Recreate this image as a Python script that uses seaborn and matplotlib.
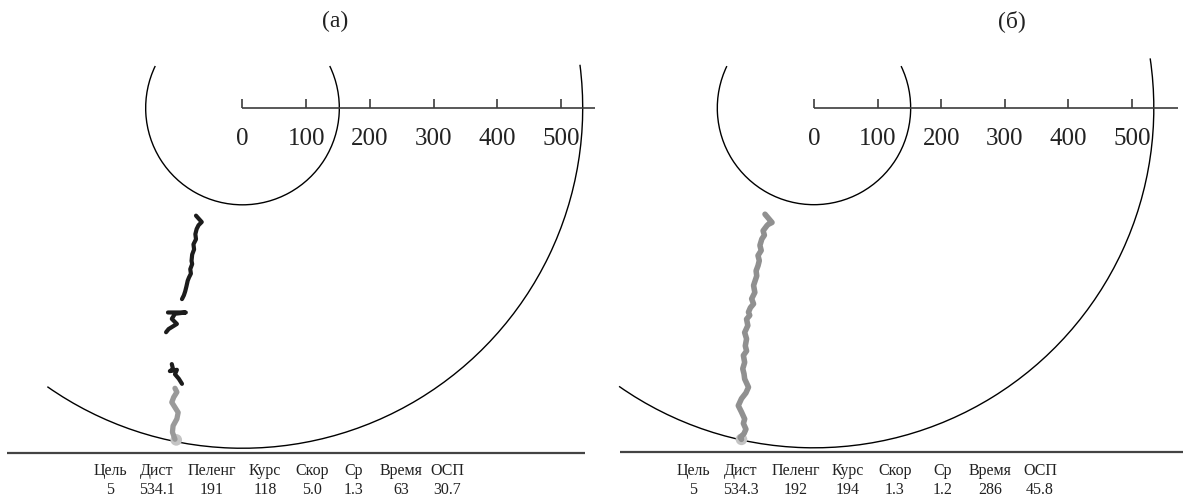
import numpy as np
import matplotlib
matplotlib.use("Agg")
import matplotlib.pyplot as plt
from matplotlib.patches import Arc
import seaborn as sns

sns.set_theme(style="white")
plt.rcParams['font.family'] = ['Liberation Serif', 'DejaVu Serif']

# ---------------- data ----------------
panel_titles = ["(а)", "(б)"]
scale_ticks = [0, 100, 200, 300, 400, 500]
inner_radius = 152          # m
outer_radius_a = 534.1      # m  (Дист, panel a)
outer_radius_b = 534.3      # m  (Дист, panel b)

table_headers = ["Цель", "Дист", "Пеленг", "Курс", "Скор", "Ср", "Время", "ОСП"]
table_values_a = ["5", "534.1", "191", "118", "5.0", "1.3", "63", "30.7"]
table_values_b = ["5", "534.3", "192", "194", "1.3", "1.2", "286", "45.8"]

# panel (a) track pieces, metres east / north of the sensor
a_dark1_x = [-73, -64, -69, -72, -74, -73, -77, -76, -79, -80, -79, -82, -81, -84, -86, -88, -90, -92, -95]
a_dark1_y = [-169, -179, -184, -190, -198, -206, -214, -222, -230, -240, -245, -253, -260, -266, -271, -280, -288, -294, -300]
a_dark2_x = [-117, -89, -106, -111, -103, -116, -120]
a_dark2_y = [-321, -321, -323, -331, -339, -347, -352]
a_dark3_x = [-111, -109, -114, -103, -106, -100, -95]
a_dark3_y = [-402, -410, -413, -411, -418, -425, -433]
a_gray_x = [-106, -103, -108, -111, -106, -101, -103, -109, -110, -106]
a_gray_y = [-440, -446, -454, -462, -470, -478, -488, -499, -509, -520]
a_end_x = [-104]
a_end_y = [-521]

# panel (б) track
b_gray_x = [-77, -66, -72, -74, -80, -78, -82, -85, -83, -88,
            -86, -88, -91, -90, -95, -93, -98, -95, -100, -103,
            -101, -106, -104, -109, -106, -108, -106, -111, -109, -112,
            -110, -109, -103, -107, -114, -119, -114, -109, -111, -107,
            -110, -116, -114]
b_gray_y = [-167, -180, -183, -185, -193, -200, -206, -216, -224, -232,
            -240, -248, -256, -264, -279, -290, -300, -308, -314, -321,
            -326, -332, -342, -353, -363, -374, -382, -389, -400, -410,
            -418, -426, -439, -448, -457, -468, -478, -489, -496, -505,
            -512, -518, -521]
b_end_x = [-114]
b_end_y = [-521]

# ---------------- layout ----------------
W, H = 1190, 502
fig = plt.figure(figsize=(W / 100, H / 100), dpi=100)

def fx(px):
    return px / W

def fy(py):
    return 1 - py / H

ax_a = fig.add_axes([fx(0), fy(460), fx(595), 410 / H])
ax_b = fig.add_axes([fx(595), fy(460), fx(595), 410 / H])
ax_a.set_xlim(-380.7, 553.4)
ax_a.set_ylim(-551.0, 92.6)
ax_b.set_xlim(-344.3, 591.2)
ax_b.set_ylim(-551.9, 92.8)

axis_col = "#3c3c3c"
dark_col = "#1c1c1c"
gray_a = "#9a9a9a"
gray_b = "#909090"
dot_col = "#c4c4c4"


def draw_panel(ax, outer_r, outer_top_deg, axis_end, base_left, base_right):
    ax.set_axis_off()
    # inner circle (clipped at top)
    ax.add_patch(Arc((0, 0), 2 * inner_radius, 2 * inner_radius,
                     theta1=154.3, theta2=25.7, color="black", lw=1.0))
    # outer arc
    ax.add_patch(Arc((0, 0), 2 * outer_r, 2 * outer_r,
                     theta1=235, theta2=outer_top_deg, color="black", lw=1.0))
    # scale bar
    ax.plot([0, axis_end], [0, 0], color=axis_col, lw=1.2, solid_capstyle="butt")
    for t in scale_ticks:
        ax.plot([t, t], [0, 14], color=axis_col, lw=1.2, solid_capstyle="butt")
        ax.text(t, -47, str(t), ha="center", va="center", fontsize=18, color="#222222")
    # base line
    ax.plot([base_left, base_right], [-541.6, -541.6], color="#444444", lw=1.6,
            solid_capstyle="butt", clip_on=False)


draw_panel(ax_a, outer_radius_a, 7.3, 554, -369, 538)
draw_panel(ax_b, outer_radius_b, 8.4, 572, -305, 580)

line_kw = dict(sort=False, estimator=None, legend=False)
for xs, ys in [(a_dark1_x, a_dark1_y), (a_dark2_x, a_dark2_y), (a_dark3_x, a_dark3_y)]:
    sns.lineplot(x=xs, y=ys, ax=ax_a, color=dark_col, lw=3.0,
                 solid_capstyle="round", solid_joinstyle="round", **line_kw)
sns.lineplot(x=a_gray_x, y=a_gray_y, ax=ax_a, color=gray_a, lw=3.8,
             solid_capstyle="round", solid_joinstyle="round", **line_kw)
sns.scatterplot(x=a_end_x, y=a_end_y, ax=ax_a, color=dot_col, s=70, edgecolor="none", legend=False)

sns.lineplot(x=b_gray_x, y=b_gray_y, ax=ax_b, color=gray_b, lw=4.0,
             solid_capstyle="round", solid_joinstyle="round", **line_kw)
sns.scatterplot(x=b_end_x, y=b_end_y, ax=ax_b, color=dot_col, s=70, edgecolor="none", legend=False)

for ax in (ax_a, ax_b):
    ax.set_axis_off()

# titles
fig.text(fx(335), fy(21), panel_titles[0], ha="center", va="center", fontsize=17, color="#222222")
fig.text(fx(1012), fy(21), panel_titles[1], ha="center", va="center", fontsize=17, color="#222222")

# data tables
cols_a = [110, 157, 212, 265, 312, 354, 401, 447]
cols_b = [693, 741, 796, 848, 895, 943, 990, 1040]
for cols, vals in [(cols_a, table_values_a), (cols_b, table_values_b)]:
    for cx, head, val in zip(cols, table_headers, vals):
        fig.text(fx(cx), fy(471), head, ha="center", va="center", fontsize=11.5, color="#222222")
        fig.text(fx(cx), fy(490), val, ha="center", va="center", fontsize=11.5, color="#222222")

fig.savefig("out.png", dpi=100, facecolor="white")
